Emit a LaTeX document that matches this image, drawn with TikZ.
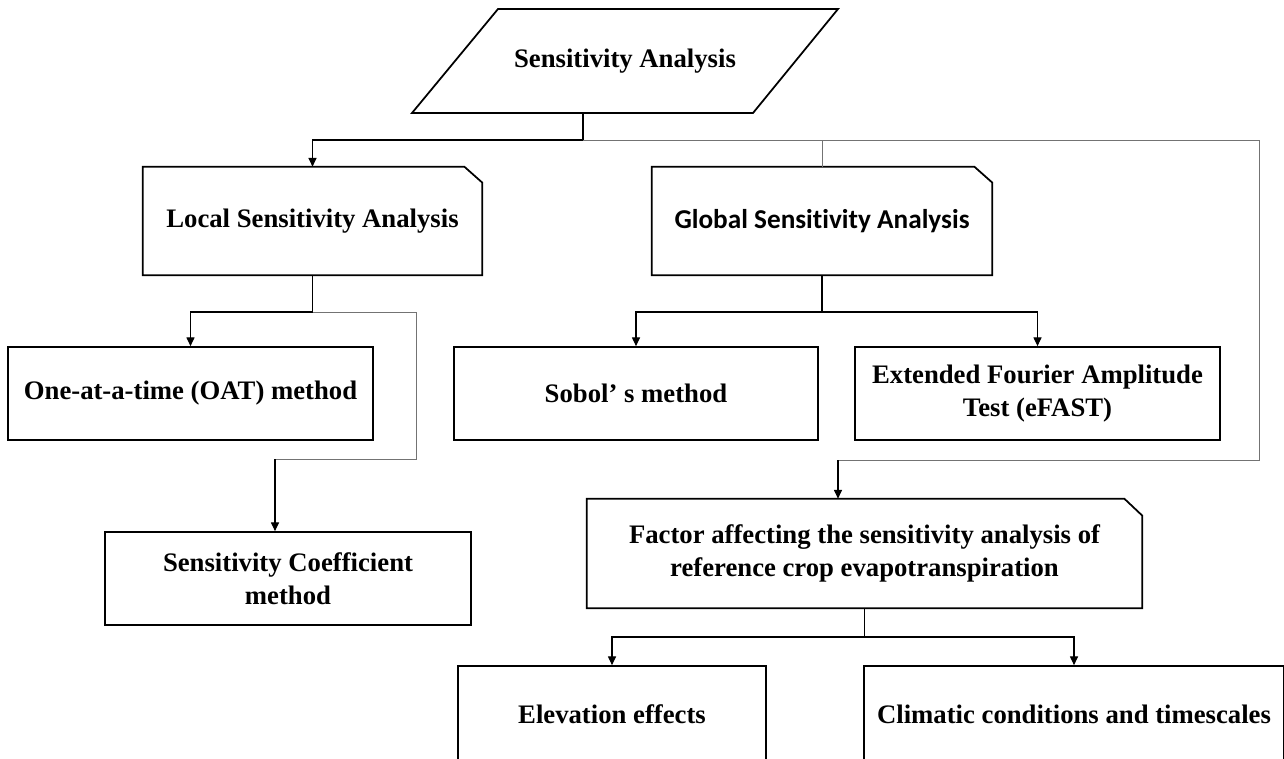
\documentclass[tikz,border=0pt]{standalone}
\usepackage{fontspec}
\setmainfont{Liberation Serif}
\newfontfamily\calibfont[Ligatures=NoCommon]{Carlito}
\usetikzlibrary{arrows.meta}
\begin{document}
\begin{tikzpicture}[x=0.02cm, y=-0.02cm,
  boxline/.style={line width=1pt, line join=miter},
  txt/.style={align=center, inner sep=0pt, font=\fontsize{15.2}{18.5}\selectfont\bfseries},
  box/.style={txt, draw, line width=1pt},
  cutbox/.style={txt, draw=none},
  conn/.style={line width=0.6pt},
  arr/.style={conn, -{Triangle[length=5pt,width=4.6pt]}},
  faint/.style={line width=0.5pt, black!55}]
\useasboundingbox (0,0) rectangle (1284,758);
\clip (0,0) rectangle (1284,758);

% top parallelogram
\node[txt] (sa) at (625,61) {Sensitivity Analysis};
\draw[boxline] (498,9) -- (838,9) -- (753,113) -- (412,113) -- cycle;
\coordinate (sastem) at (583,113);

% level 1 (cut-corner boxes)
\node[cutbox, minimum width=6.78cm, minimum height=2.16cm] (local) at (312.5,221) {Local Sensitivity Analysis};
\node[cutbox, minimum width=6.8cm, minimum height=2.16cm, font=\fontsize{15.5}{18.5}\selectfont\calibfont\bfseries] (global) at (822,221) {Global Sensitivity Analysis};
\foreach \n in {local,global}{
  \draw[boxline] (\n.south west) -- (\n.north west) -- ([xshift=-0.36cm]\n.north east)
    -- ([yshift=-0.32cm]\n.north east) -- (\n.south east) -- cycle;
}

% level 2
\node[box, minimum width=7.3cm, minimum height=1.86cm] (oat) at (190.5,393.5) {One-at-a-time (OAT) method};
\node[box, minimum width=7.28cm, minimum height=1.86cm] (sobol) at (636,393.5) {Sobol’ s method};
\node[box, minimum width=7.3cm, minimum height=1.86cm] (efast) at (1037.5,393.5) {Extended Fourier Amplitude\\Test (eFAST)};
\node[box, minimum width=7.32cm, minimum height=1.86cm] (sc) at (288,578.5) {Sensitivity Coefficient\\method};

% factor box
\node[cutbox, minimum width=11.1cm, minimum height=2.18cm] (factor) at (864.5,553.5) {Factor affecting the sensitivity analysis of\\reference crop evapotranspiration};
\draw[boxline] (factor.south west) -- (factor.north west) -- ([xshift=-0.36cm]factor.north east)
  -- ([yshift=-0.34cm]factor.north east) -- (factor.south east) -- cycle;

% bottom row
\node[box, minimum width=6.16cm, minimum height=1.92cm] (elev) at (612,714) {Elevation effects};
\node[box, minimum width=8.4cm, minimum height=1.92cm] (clim) at (1074,714) {Climatic conditions and timescales};

% connectors from top
\coordinate (tj) at (583,140);
\draw[arr] (sastem) -- (tj) -| (local.north);
\draw[faint] (tj) -- (1259,140) -- (1259,460) -- (838,460);
\coordinate (fin) at (838,460);
\draw[arr] (fin) -- (fin |- factor.north);
\draw[faint] (global.north |- tj) -- (global.north);

% local branch
\coordinate (lj) at (312.5,312);
\draw[arr] (local.south) -- (lj) -| (oat.north);
\draw[faint] (lj) -- (416,312) -- (416,459) -- (275,459);
\coordinate (scin) at (275,459);
\draw[arr] (scin) -- (scin |- sc.north);

% global branch
\coordinate (gj) at (822,312);
\draw[conn] (global.south) -- (gj);
\draw[arr] (gj) -| (sobol.north);
\draw[arr] (gj) -| (efast.north);

% factor branch
\coordinate (fj) at (864.5,637);
\draw[conn] (factor.south) -- (fj);
\draw[arr] (fj) -| (elev.north);
\draw[arr] (fj) -| (clim.north);
\end{tikzpicture}
\end{document}
